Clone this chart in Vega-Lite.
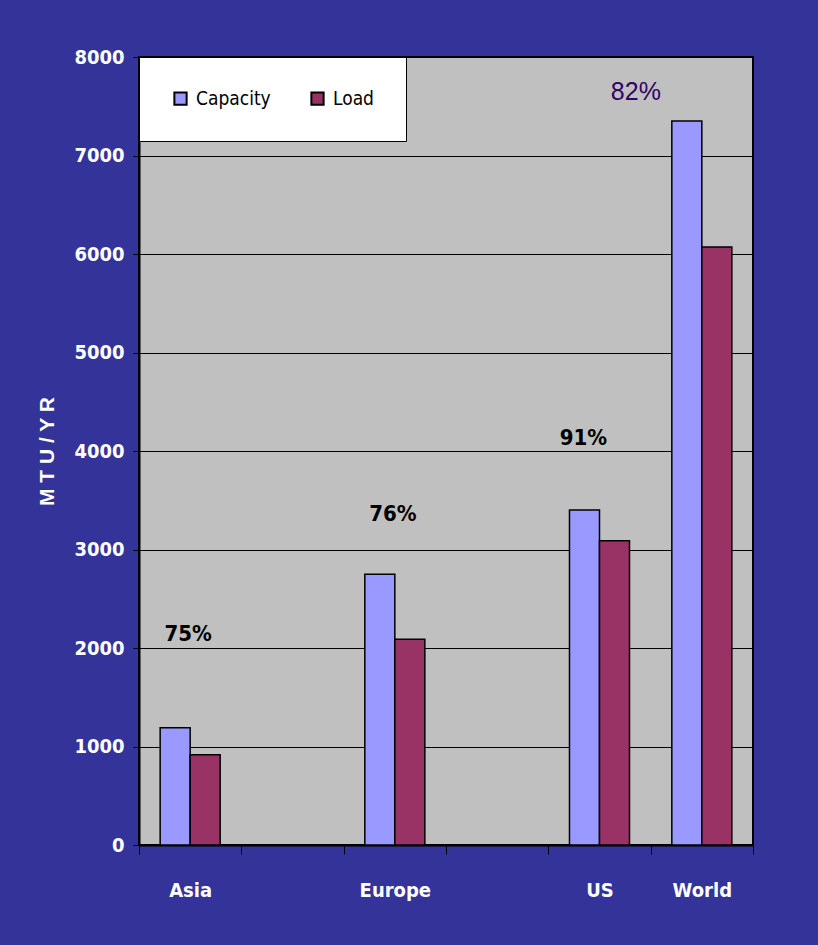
{
  "$schema": "https://vega.github.io/schema/vega-lite/v6.json",
  "width": 614,
  "height": 788,
  "padding": {"left": 36, "top": 47, "right": 66, "bottom": 45},
  "background": "#333399",
  "config": {
    "view": {"fill": "#C0C0C0", "stroke": "#000000", "strokeWidth": 2},
    "font": "'DejaVu Sans Condensed', 'Liberation Sans', sans-serif"
  },
  "layer": [
    {
      "data": {
        "values": [
          {"region": "Asia", "series": "Capacity", "value": 1190},
          {"region": "Asia", "series": "Load", "value": 915},
          {"region": "Europe", "series": "Capacity", "value": 2750},
          {"region": "Europe", "series": "Load", "value": 2090},
          {"region": "US", "series": "Capacity", "value": 3400},
          {"region": "US", "series": "Load", "value": 3090},
          {"region": "World", "series": "Capacity", "value": 7350},
          {"region": "World", "series": "Load", "value": 6070}
        ]
      },
      "mark": {"type": "bar", "stroke": "#000000", "strokeWidth": 1.5},
      "encoding": {
        "x": {
          "field": "region",
          "type": "nominal",
          "scale": {"domain": ["Asia", " ", "Europe", "  ", "US", "World"], "paddingInner": 0, "paddingOuter": 0},
          "axis": {
            "title": null,
            "labelAngle": 0,
            "labelColor": "#FFFFFF",
            "labelFont": "'DejaVu Sans Condensed', 'Liberation Sans', sans-serif",
            "labelFontWeight": "bold",
            "labelFontSize": 20,
            "labelPadding": 26,
            "domainColor": "#000000",
            "domainWidth": 2,
            "tickColor": "#000000",
            "tickSize": 9,
            "tickWidth": 1,
            "tickBand": "extent",
            "grid": false
          }
        },
        "xOffset": {
          "field": "series",
          "type": "nominal",
          "sort": ["Capacity", "Load"],
          "scale": {"paddingInner": 0, "paddingOuter": 0.705}
        },
        "y": {
          "field": "value",
          "type": "quantitative",
          "scale": {"domain": [0, 8000], "nice": false},
          "axis": {
            "values": [0, 1000, 2000, 3000, 4000, 5000, 6000, 7000, 8000],
            "format": "d",
            "title": "M T U / Y R",
            "titleColor": "#FFFFFF",
            "titleFont": "Liberation Sans",
            "titleFontWeight": "bold",
            "titleFontSize": 21,
            "titlePadding": 16,
            "labelColor": "#FFFFFF",
            "labelFont": "'DejaVu Sans Condensed', 'Liberation Sans', sans-serif",
            "labelFontWeight": "bold",
            "labelFontSize": 20,
            "labelPadding": 9,
            "domainColor": "#000000",
            "domainWidth": 2,
            "tickColor": "#000000",
            "tickSize": 6,
            "grid": true,
            "gridColor": "#000000",
            "gridWidth": 1,
            "gridOpacity": 1
          }
        },
        "color": {
          "field": "series",
          "type": "nominal",
          "scale": {"domain": ["Capacity", "Load"], "range": ["#9999FF", "#993366"]},
          "legend": {
            "title": null,
            "orient": "top-left",
            "offset": 0,
            "direction": "horizontal",
            "fillColor": "#FFFFFF",
            "strokeColor": "#000000",
            "padding": 32,
            "symbolType": "square",
            "symbolSize": 150,
            "symbolStrokeColor": "#000000",
            "symbolStrokeWidth": 2,
            "symbolOpacity": 1,
            "labelFont": "'DejaVu Sans Condensed', 'Liberation Sans', sans-serif",
            "labelFontSize": 19,
            "labelColor": "#000000",
            "labelOffset": 6,
            "columnPadding": 36
          }
        }
      }
    },
    {
      "data": {
        "values": [
          {"region": "Asia", "value": 2144, "label": "75%"},
          {"region": "Europe", "value": 3364, "label": "76%"}
        ]
      },
      "mark": {"type": "text", "font": "'DejaVu Sans Condensed', 'Liberation Sans', sans-serif", "fontWeight": "bold", "fontSize": 22, "color": "#000000", "baseline": "middle", "align": "center", "dx": -2},
      "encoding": {
        "x": {"field": "region", "type": "nominal"},
        "y": {"field": "value", "type": "quantitative"},
        "text": {"field": "label"}
      }
    },
    {
      "data": {
        "values": [
          {"region": "US", "value": 4136, "label": "91%"}
        ]
      },
      "mark": {"type": "text", "font": "'DejaVu Sans Condensed', 'Liberation Sans', sans-serif", "fontWeight": "bold", "fontSize": 22, "color": "#000000", "baseline": "middle", "align": "center", "dx": -16},
      "encoding": {
        "x": {"field": "region", "type": "nominal"},
        "y": {"field": "value", "type": "quantitative"},
        "text": {"field": "label"}
      }
    },
    {
      "data": {
        "values": [
          {"region": "World", "value": 7642, "label": "82%"}
        ]
      },
      "mark": {"type": "text", "font": "Liberation Sans", "fontWeight": "normal", "fontSize": 25, "color": "#330066", "baseline": "middle", "align": "center", "dx": -66},
      "encoding": {
        "x": {"field": "region", "type": "nominal"},
        "y": {"field": "value", "type": "quantitative"},
        "text": {"field": "label"}
      }
    }
  ]
}
